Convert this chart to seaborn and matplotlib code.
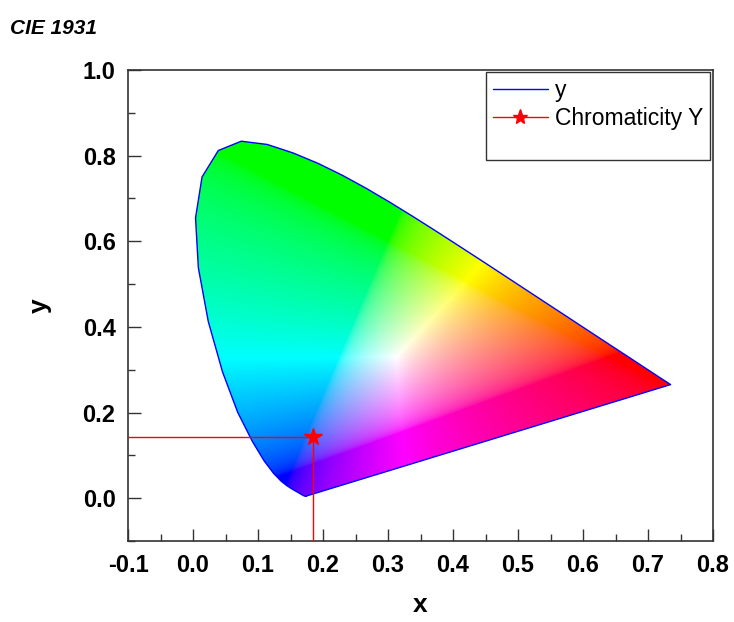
import numpy as np
import pandas as pd
import matplotlib
matplotlib.use("Agg")
import matplotlib.pyplot as plt
from matplotlib.patches import Polygon
from matplotlib.lines import Line2D
import seaborn as sns

# CIE 1931 2-degree spectral locus, 380-700 nm in 5 nm steps
locus_x = [0.1741, 0.1740, 0.1738, 0.1736, 0.1733, 0.1730, 0.1726, 0.1721, 0.1714,
           0.1703, 0.1689, 0.1669, 0.1644, 0.1611, 0.1566, 0.1510, 0.1440, 0.1355,
           0.1241, 0.1096, 0.0913, 0.0687, 0.0454, 0.0235, 0.0082, 0.0039, 0.0139,
           0.0389, 0.0743, 0.1142, 0.1547, 0.1929, 0.2296, 0.2658, 0.3016, 0.3373,
           0.3731, 0.4087, 0.4441, 0.4788, 0.5125, 0.5448, 0.5752, 0.6029, 0.6270,
           0.6482, 0.6658, 0.6801, 0.6915, 0.7006, 0.7079, 0.7140, 0.7190, 0.7230,
           0.7260, 0.7283, 0.7300, 0.7311, 0.7320, 0.7327, 0.7334, 0.7340, 0.7344,
           0.7346, 0.7347]
locus_y = [0.0050, 0.0050, 0.0049, 0.0049, 0.0048, 0.0048, 0.0048, 0.0048, 0.0051,
           0.0058, 0.0069, 0.0086, 0.0109, 0.0138, 0.0177, 0.0227, 0.0297, 0.0399,
           0.0578, 0.0868, 0.1327, 0.2007, 0.2950, 0.4127, 0.5384, 0.6548, 0.7502,
           0.8120, 0.8338, 0.8262, 0.8059, 0.7816, 0.7543, 0.7243, 0.6923, 0.6589,
           0.6245, 0.5896, 0.5547, 0.5202, 0.4866, 0.4544, 0.4242, 0.3965, 0.3725,
           0.3514, 0.3340, 0.3197, 0.3083, 0.2993, 0.2920, 0.2859, 0.2809, 0.2770,
           0.2740, 0.2717, 0.2700, 0.2689, 0.2680, 0.2673, 0.2666, 0.2660, 0.2656,
           0.2654, 0.2653]

# measured chromaticity point
point_x = 0.185
point_y = 0.143

x_ticks = [-0.1, 0.0, 0.1, 0.2, 0.3, 0.4, 0.5, 0.6, 0.7, 0.8]
y_ticks = [0.0, 0.2, 0.4, 0.6, 0.8, 1.0]


def xy_to_rgb(xx, yy):
    # xy -> XYZ (Y=1) -> sRGB, out-of-gamut clipped, brightest channel at 1
    yy = np.clip(yy, 1e-4, None)
    X = xx / yy
    Z = (1 - xx - yy) / yy
    M = np.array([[3.2406, -1.5372, -0.4986],
                  [-0.9689, 1.8758, 0.0415],
                  [0.0557, -0.2040, 1.0570]])
    rgb = np.stack([X, np.ones_like(X), Z], axis=-1) @ M.T
    rgb = np.clip(rgb, 0, None)
    rgb = rgb / np.clip(rgb.max(axis=-1, keepdims=True), 1e-6, None)
    rgb = np.where(rgb <= 0.0031308, 12.92 * rgb, 1.055 * rgb ** (1 / 2.4) - 0.055)
    return np.clip(rgb, 0, 1)


sns.set_style("ticks")
plt.rcParams['font.family'] = ['Liberation Sans', 'DejaVu Sans']

fig = plt.figure(figsize=(7.34, 6.22), dpi=100)
ax = fig.add_axes([0.1744, 0.1302, 0.797, 0.7572])

# colour fill clipped to the horseshoe
gx, gy = np.meshgrid(np.linspace(0, 0.75, 500), np.linspace(0, 0.85, 500))
img = xy_to_rgb(gx, gy)
im = ax.imshow(img, extent=[0, 0.75, 0, 0.85], origin='lower', interpolation='bilinear',
               aspect='auto', zorder=1)
shape = Polygon(np.column_stack([locus_x, locus_y]), closed=True, transform=ax.transData)
im.set_clip_path(shape)

loop = pd.DataFrame({'x': locus_x + [locus_x[0]], 'y': locus_y + [locus_y[0]]})
sns.lineplot(data=loop, x='x', y='y', sort=False, estimator=None, color='#0000ff',
             lw=1, ax=ax, legend=False, zorder=3)

drop = pd.DataFrame({'x': [-0.1, point_x, point_x], 'y': [point_y, point_y, -0.1]})
sns.lineplot(data=drop, x='x', y='y', sort=False, estimator=None, color='red',
             lw=1, ax=ax, legend=False, zorder=4)
ax.plot([point_x], [point_y], marker='*', ms=13, color='red', zorder=5)

ax.set_xlim(-0.1, 0.8)
ax.set_ylim(-0.1, 1.0)
ax.set_xticks(x_ticks)
ax.set_yticks(y_ticks)
ax.set_xticklabels([f'{v:.1f}' for v in x_ticks])
ax.set_yticklabels([f'{v:.1f}' for v in y_ticks])
ax.set_xticks(np.arange(-0.05, 0.8, 0.1), minor=True)
ax.set_yticks(np.arange(-0.1, 1.0, 0.2), minor=True)
ax.tick_params(which='major', direction='in', length=9, width=1, labelsize=17, pad=9,
               color='#333333', labelcolor='black')
ax.tick_params(which='minor', direction='in', length=5, width=1, color='#333333')
for lab in ax.get_xticklabels() + ax.get_yticklabels():
    lab.set_fontweight('bold')
for sp in ax.spines.values():
    sp.set_color('#333333')
    sp.set_linewidth(1.2)

ax.set_xlabel('x', fontsize=19, fontweight='bold', labelpad=12, color='black')
ax.set_ylabel('y', fontsize=19, fontweight='bold', labelpad=22, color='black')
fig.text(0.014, 0.945, 'CIE 1931', fontsize=15, fontweight='bold', style='italic',
         ha='left', color='black')

handles = [Line2D([], [], color='#0000ff', lw=1),
           Line2D([], [], color='red', lw=1, marker='*', ms=11),
           Line2D([], [], lw=0)]
leg = ax.legend(handles, ['y', 'Chromaticity Y', ' '], loc='upper right',
                bbox_to_anchor=(0.995, 0.996), borderaxespad=0, fontsize=16.5, frameon=True,
                fancybox=False, edgecolor='black', handlelength=2.4, borderpad=0.3,
                labelspacing=0.22, handletextpad=0.3, labelcolor='black')
leg.get_texts()[2].set_fontsize(6)
leg.get_frame().set_linewidth(1)

fig.savefig('out.png', dpi=100)
